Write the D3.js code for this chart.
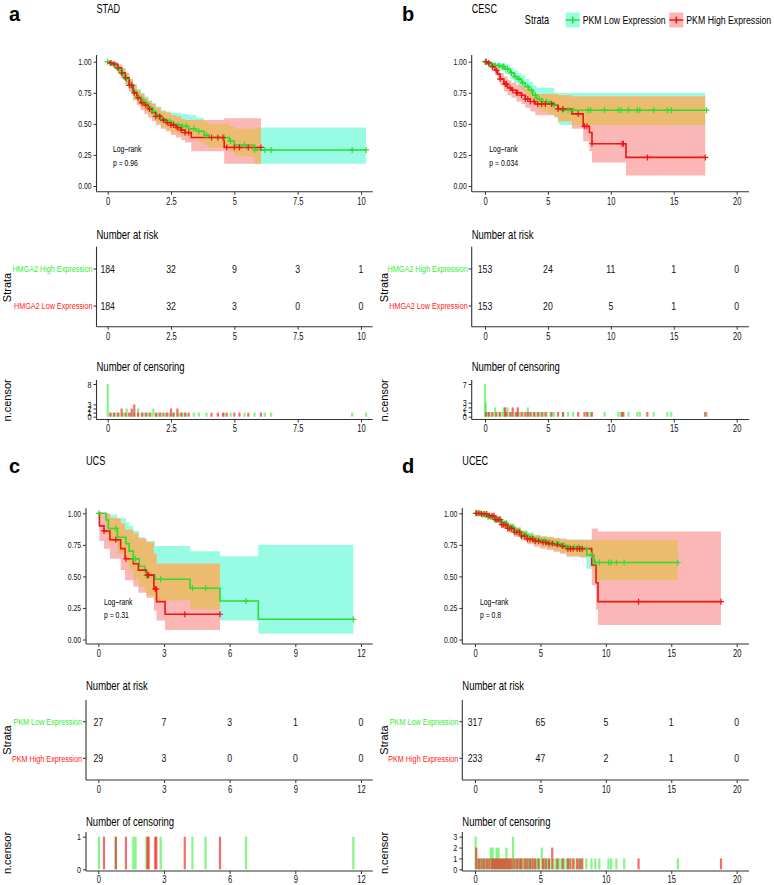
<!DOCTYPE html>
<html>
<head>
<meta charset="utf-8">
<script src="https://cdn.jsdelivr.net/npm/d3@7"></script>
<style>
  body { margin: 0; background: #fff; }
  text { font-family: 'Liberation Sans', Arial, sans-serif; }
</style>
</head>
<body>
<div id="chart"></div>
<script>
// ---------- data ----------
// curves: [time, survival, lower, upper]; censor lists: [time, count]

// a: STAD
const stadBreaks = [0, 2.5, 5, 7.5, 10];
const stadStrata = ["HMGA2 High Expression", "HMGA2 Low Expression"];
const stadRiskGreen = [184, 32, 9, 3, 1];
const stadRiskRed = [184, 32, 3, 0, 0];
const stadEnds = [10.2, 6.05];
const stadGreen = [
  [0,1,1,1],[0.1,0.99,0.97,1],[0.25,0.97,0.94,0.99],[0.4,0.94,0.9,0.97],[0.55,0.9,0.86,0.94],
  [0.7,0.86,0.81,0.9],[0.85,0.81,0.76,0.86],[1,0.76,0.7,0.82],[1.15,0.72,0.66,0.78],[1.3,0.69,0.63,0.75],
  [1.45,0.66,0.6,0.72],[1.6,0.63,0.57,0.69],[1.75,0.6,0.54,0.67],[1.9,0.57,0.51,0.64],[2.1,0.54,0.47,0.61],
  [2.3,0.52,0.45,0.6],[2.5,0.5,0.43,0.59],[2.7,0.49,0.42,0.59],[2.9,0.48,0.4,0.58],[3.2,0.46,0.38,0.57],
  [3.5,0.44,0.36,0.55],[3.8,0.41,0.33,0.52],[4,0.39,0.31,0.5],[4.8,0.36,0.27,0.48],[5,0.33,0.24,0.46],
  [5.8,0.29,0.18,0.47]
];
const stadRed = [
  [0,1,1,1],[0.1,0.99,0.98,1],[0.25,0.98,0.95,1],[0.4,0.95,0.92,0.98],[0.55,0.91,0.87,0.95],
  [0.7,0.87,0.82,0.91],[0.85,0.81,0.76,0.86],[1,0.75,0.69,0.81],[1.15,0.71,0.65,0.77],[1.3,0.67,0.61,0.74],
  [1.45,0.65,0.58,0.71],[1.6,0.62,0.55,0.68],[1.75,0.59,0.52,0.66],[1.9,0.56,0.49,0.63],[2.1,0.53,0.46,0.6],
  [2.3,0.51,0.44,0.59],[2.5,0.49,0.41,0.57],[2.7,0.47,0.39,0.56],[2.9,0.45,0.37,0.54],[3.05,0.43,0.35,0.53],
  [3.3,0.39,0.28,0.53],[4.6,0.31,0.18,0.545]
];
const stadGreenCens = [
  [0,8],[0.15,1],[0.3,1],[0.45,1],[0.6,1],[0.75,2],[0.9,1],[1.05,1],[1.2,2],[1.4,1],[1.55,1],[1.7,1],
  [1.8,2],[1.95,1],[2.1,1],[2.3,1],[2.45,1],[2.6,1],[2.8,1],[2.95,1],[3.1,1],[3.4,1],[3.6,1],[3.9,1],
  [4.6,1],[4.85,1],[5.4,1],[5.8,1],[6.2,1],[6.45,1],[9.65,1],[10.2,1]
];
const stadRedCens = [
  [0.1,1],[0.25,1],[0.4,1],[0.55,2],[0.7,1],[0.85,1],[0.95,2],[1.05,3],[1.2,1],[1.35,1],[1.5,1],
  [1.65,1],[1.9,1],[2.05,1],[2.2,1],[2.35,1],[2.5,2],[2.6,1],[2.75,2],[2.9,1],[3.05,1],[3.2,1],
  [4.1,1],[4.35,1],[4.55,1],[4.7,1],[5.0,1],[5.2,1],[5.55,1],[6.05,1]
];

// b: CESC
const cescBreaks = [0, 5, 10, 15, 20];
const cescStrata = ["HMGA2 High Expression", "HMGA2 Low Expression"];
const cescRiskGreen = [153, 24, 11, 1, 0];
const cescRiskRed = [153, 20, 5, 1, 0];
const cescEnds = [17.5, 17.5];
const cescGreen = [
  [0,1,1,1],[0.3,0.98,0.96,1],[0.8,0.97,0.94,0.99],[1.2,0.96,0.93,0.99],[1.6,0.94,0.9,0.98],
  [2,0.91,0.86,0.95],[2.3,0.88,0.83,0.93],[2.6,0.86,0.8,0.91],[2.9,0.83,0.77,0.89],[3.2,0.8,0.73,0.86],
  [3.5,0.77,0.7,0.84],[3.8,0.73,0.66,0.81],[4.1,0.7,0.62,0.79],[4.5,0.68,0.6,0.79],[5,0.67,0.58,0.79],
  [5.5,0.65,0.55,0.75],[5.8,0.62,0.5,0.75],[6,0.61,0.49,0.75]
];
const cescRed = [
  [0,1,1,1],[0.2,0.99,0.97,1],[0.5,0.96,0.93,0.99],[0.8,0.93,0.89,0.97],[1,0.9,0.85,0.94],
  [1.2,0.86,0.81,0.91],[1.5,0.82,0.76,0.88],[1.8,0.79,0.73,0.85],[2.1,0.77,0.71,0.83],[2.5,0.75,0.68,0.81],
  [2.9,0.73,0.66,0.8],[3.2,0.7,0.63,0.78],[3.6,0.68,0.6,0.76],[4,0.66,0.57,0.74],[5.5,0.65,0.56,0.74],
  [5.8,0.62,0.52,0.73],[6.9,0.58,0.46,0.72],[7.8,0.48,0.36,0.72],[8.3,0.43,0.28,0.72],[8.5,0.34,0.19,0.72],
  [11.2,0.23,0.085,0.72]
];
const cescGreenCens = [
  [0,7],[0.05,3],[0.3,1],[0.5,1],[0.8,2],[1.1,1],[1.4,1],[1.5,2],[1.8,2],[2.1,1],[2.4,1],[2.7,1],
  [3.0,1],[3.4,2],[3.7,1],[4.0,1],[4.3,1],[4.6,1],[4.9,1],[5.2,1],[5.5,1],[6.2,1],[6.6,1],[7.0,1],
  [8.2,1],[8.4,1],[9.5,1],[10.6,1],[10.8,1],[11.4,1],[12.1,1],[12.3,1],[13.4,1],[14.5,1],[14.8,1],[17.6,1]
];
const cescRedCens = [
  [0.1,1],[0.3,1],[0.6,1],[0.9,1],[1.2,1],[1.6,2],[1.7,1],[2.0,1],[2.2,2],[2.5,1],[2.6,2],[2.9,1],
  [3.2,1],[3.4,1],[3.6,1],[3.9,1],[4.2,1],[4.5,1],[4.8,1],[5.3,1],[5.8,1],[6.2,1],[7.4,1],[7.9,1],
  [8.1,1],[8.5,1],[10.9,1],[11.0,1],[12.9,1],[17.5,1]
];

// c: UCS
const ucsBreaks = [0, 3, 6, 9, 12];
const ucsStrata = ["PKM Low Expression", "PKM High Expression"];
const ucsRiskGreen = [27, 7, 3, 1, 0];
const ucsRiskRed = [29, 3, 0, 0, 0];
const ucsEnds = [11.65, 5.56];
const ucsGreen = [
  [0,1,1,1],[0.35,0.947,0.85,1],[0.46,0.88,0.77,0.99],[0.87,0.81,0.68,0.96],[1.26,0.76,0.61,0.93],
  [1.41,0.7,0.55,0.9],[1.6,0.64,0.48,0.86],[1.87,0.58,0.42,0.81],[2.13,0.54,0.38,0.79],[2.2,0.51,0.35,0.78],
  [2.59,0.477,0.31,0.74],[4.19,0.406,0.24,0.7],[5.56,0.305,0.15,0.66],[7.31,0.16,0.045,0.75]
];
const ucsRed = [
  [0,1,1,1],[0.05,0.9,0.78,1],[0.26,0.86,0.72,1],[0.53,0.79,0.64,0.96],[1.02,0.72,0.55,0.92],
  [1.22,0.64,0.47,0.87],[1.6,0.6,0.42,0.84],[1.83,0.55,0.37,0.8],[2.2,0.51,0.33,0.77],[2.54,0.4,0.23,0.68],
  [2.66,0.3,0.15,0.6],[3.05,0.2,0.075,0.6]
];
const ucsGreenCens = [
  [0.03,1],[0.8,1],[1.6,1],[1.7,1],[2.2,1],[2.85,1],[4.3,1],[4.9,1],[6.75,1],[11.65,1]
];
const ucsRedCens = [
  [0.26,1],[0.8,1],[1.26,1],[2.25,1],[2.3,1],[2.6,1],[2.65,1],[3.95,1],[5.56,1]
];

// d: UCEC
const ucecBreaks = [0, 5, 10, 15, 20];
const ucecStrata = ["PKM Low Expression", "PKM High Expression"];
const ucecRiskGreen = [317, 65, 5, 1, 0];
const ucecRiskRed = [233, 47, 2, 1, 0];
const ucecEnds = [15.5, 18.8];
const ucecGreen = [
  [0,1,1,1],[0.5,0.99,0.98,1],[1,0.97,0.955,0.985],[1.5,0.95,0.93,0.97],[2,0.92,0.895,0.945],
  [2.5,0.89,0.86,0.92],[3,0.86,0.83,0.89],[3.5,0.83,0.795,0.865],[4,0.81,0.77,0.85],[4.5,0.79,0.75,0.83],
  [5,0.78,0.735,0.82],[5.5,0.77,0.72,0.815],[6,0.76,0.705,0.8],[6.5,0.745,0.69,0.79],[7,0.73,0.665,0.79],
  [8,0.72,0.645,0.79],[8.54,0.67,0.56,0.79],[9.1,0.61,0.47,0.79]
];
const ucecRed = [
  [0,1,1,1],[0.5,0.995,0.985,1],[1,0.98,0.965,0.995],[1.5,0.95,0.93,0.97],[2,0.91,0.885,0.935],
  [2.5,0.88,0.85,0.91],[3,0.85,0.815,0.885],[3.5,0.82,0.785,0.86],[4,0.795,0.755,0.835],[4.5,0.78,0.735,0.825],
  [5,0.77,0.72,0.815],[5.5,0.76,0.71,0.81],[6,0.75,0.695,0.805],[6.5,0.74,0.68,0.8],[7,0.72,0.655,0.79],
  [8.92,0.59,0.43,0.88],[9.25,0.45,0.235,0.88],[9.4,0.3,0.115,0.855]
];
const ucecGreenCens = [
  [0.05,3],[0.2,1],[0.4,1],[0.6,1],[0.8,1],[1.0,1],[1.2,2],[1.35,2],[1.5,1],[1.65,2],[1.8,2],[1.95,1],
  [2.1,1],[2.25,1],[2.4,2],[2.55,1],[2.7,1],[2.9,3],[3.1,1],[3.3,1],[3.5,1],[3.7,1],[3.9,1],[4.1,1],
  [4.3,1],[4.5,1],[4.7,1],[4.9,1],[5.1,2],[5.3,1],[5.5,1],[5.7,1],[6.0,1],[6.2,1],[6.4,1],[6.6,1],
  [6.8,1],[7.0,1],[7.2,1],[7.6,1],[7.9,1],[8.1,1],[8.5,1],[8.9,1],[9.2,1],[9.5,1],[10.2,1],[10.4,1],
  [10.8,1],[11.4,1],[15.5,1]
];
const ucecRedCens = [
  [0.1,2],[0.3,1],[0.5,1],[0.7,1],[0.9,1],[1.1,1],[1.3,1],[1.45,1],[1.6,1],[1.75,1],[1.9,1],[2.05,1],
  [2.2,1],[2.35,1],[2.5,1],[2.65,1],[2.8,1],[3.0,1],[3.2,1],[3.4,1],[3.55,1],[3.8,1],[4.0,1],[4.2,1],
  [4.4,1],[4.6,1],[4.85,1],[5.2,1],[5.4,1],[5.65,1],[5.9,2],[6.3,1],[6.7,1],[7.1,1],[7.3,1],[7.5,1],
  [7.8,1],[8.0,1],[8.2,1],[12.5,1],[18.8,1]
];

const legendLabels = ["PKM Low Expression", "PKM High Expression"];

// ---------- colours ----------
const greenLine = "#2fdc2f", redLine = "#ee1515";
const greenText = "#33ee33", redText = "#ff2222";
const cyanFill = "#98fbe4", pinkFill = "#fbb6b6", tanFill = "#ebbc70";

// ---------- layout ----------
const W = 774, H = 885;
const NARROW = 0.76; // horizontal squeeze: the original uses a narrow face
const svg = d3.select("#chart").append("svg").attr("width", W).attr("height", H);

const topRow = { letterY: 21, titleY: 13, yt: 61.7, yb: 186, axT: 55, axB: 191.7, logY: 152,
  tabTitleY: 239, tabTop: 246.7, tabBot: 326.7, rowY: [269, 306],
  censTitleY: 371, cy0: 416.7, cy1: 384, censAxT: 380, censAxB: 419.5 };
const botRow = { letterY: 473, titleY: 465, yt: 513.3, yb: 639.5, axT: 508, axB: 644, logY: 604.5,
  tabTitleY: 690, tabTop: 700, tabBot: 780, rowY: [721.7, 758.3],
  censTitleY: 826, cy0: 869.3, cy1: 836.7, censAxT: 832, censAxB: 871 };

const panels = [
  Object.assign({ letter: "a", name: "STAD", p: "p = 0.96", letterX: 9, stratX: 11,
    x0: 107.7, x1: 361, axL: 96.5, axR: 372.7, logX: 113,
    breaks: stadBreaks, strata: stadStrata, risk: [stadRiskGreen, stadRiskRed], ends: stadEnds,
    curves: [stadGreen, stadRed], cens: [stadGreenCens, stadRedCens] }, topRow),
  Object.assign({ letter: "b", name: "CESC", p: "p = 0.034", letterX: 402, stratX: 388,
    x0: 485, x1: 736.7, axL: 471.7, axR: 749, logX: 489.3,
    breaks: cescBreaks, strata: cescStrata, risk: [cescRiskGreen, cescRiskRed], ends: cescEnds,
    curves: [cescGreen, cescRed], cens: [cescGreenCens, cescRedCens] }, topRow),
  Object.assign({ letter: "c", name: "UCS", p: "p = 0.31", letterX: 9, stratX: 11,
    x0: 98.3, x1: 361, axL: 86, axR: 372.7, logX: 104,
    breaks: ucsBreaks, strata: ucsStrata, risk: [ucsRiskGreen, ucsRiskRed], ends: ucsEnds,
    curves: [ucsGreen, ucsRed], cens: [ucsGreenCens, ucsRedCens] }, botRow),
  Object.assign({ letter: "d", name: "UCEC", p: "p = 0.8", letterX: 402, stratX: 388,
    x0: 475, x1: 736.7, axL: 462.3, axR: 749, logX: 480,
    breaks: ucecBreaks, strata: ucecStrata, risk: [ucecRiskGreen, ucecRiskRed], ends: ucecEnds,
    curves: [ucecGreen, ucecRed], cens: [ucecGreenCens, ucecRedCens] }, botRow)
];

// survival value of a step curve at time t
function survAt(curve, t) {
  let v = curve[0][1];
  curve.forEach(d => { if (d[0] <= t) v = d[1]; });
  return v;
}

function styleAxis(g, size) {
  g.select(".domain").remove();
  g.selectAll(".tick line").attr("stroke", "#333");
  g.selectAll(".tick text").attr("fill", "#111").attr("font-size", size).classed("nw", true);
}

function axisLines(g, left, right, top, bottom) {
  g.append("line").attr("x1", left).attr("x2", left).attr("y1", top).attr("y2", bottom)
    .attr("stroke", "#333").attr("stroke-width", 1.1);
  g.append("line").attr("x1", left).attr("x2", right).attr("y1", bottom).attr("y2", bottom)
    .attr("stroke", "#333").attr("stroke-width", 1.1);
}

function drawPanel(p, idx) {
  const g = svg.append("g");
  const last = p.breaks[p.breaks.length - 1];
  const x = d3.scaleLinear().domain([0, last]).range([p.x0, p.x1]);
  const y = d3.scaleLinear().domain([0, 1]).range([p.yb, p.yt]);

  // letter + title
  g.append("text").attr("x", p.letterX).attr("y", p.letterY).text(p.letter)
    .attr("font-size", 20).attr("font-weight", "bold");
  g.append("text").attr("class", "nw").attr("x", p.axL).attr("y", p.titleY).text(p.name).attr("font-size", 12);

  // step series with end point added
  const series = p.curves.map((c, i) => {
    const l = c[c.length - 1];
    return c.concat([[p.ends[i], l[1], l[2], l[3]]]);
  });
  const area = d3.area().curve(d3.curveStepAfter)
    .x(d => x(d[0])).y0(d => y(d[2])).y1(d => y(d[3]));
  const line = d3.line().curve(d3.curveStepAfter)
    .x(d => x(d[0])).y(d => y(d[1]));

  // confidence bands: green (cyan), red (pink), overlap (tan)
  const clipId = "clip" + idx;
  g.append("clipPath").attr("id", clipId).append("path").attr("d", area(series[0]));
  g.append("path").attr("d", area(series[0])).attr("fill", cyanFill);
  g.append("path").attr("d", area(series[1])).attr("fill", pinkFill);
  g.append("path").attr("d", area(series[1])).attr("fill", tanFill)
    .attr("clip-path", `url(#${clipId})`);

  const colors = [greenLine, redLine];
  series.forEach((s, i) => {
    g.append("path").attr("d", line(s)).attr("fill", "none")
      .attr("stroke", colors[i]).attr("stroke-width", 1.6);
  });
  // censor marks
  p.cens.forEach((cl, i) => {
    g.append("g").selectAll("path").data(cl).join("path")
      .attr("d", d => {
        const cx = x(d[0]), cy = y(survAt(p.curves[i], d[0]));
        return `M${cx - 3},${cy}h6M${cx},${cy - 3}v6`;
      })
      .attr("stroke", colors[i]).attr("stroke-width", 1.2).attr("fill", "none");
  });

  // axes
  axisLines(g, p.axL, p.axR, p.axT, p.axB);
  g.append("g").attr("transform", `translate(0,${p.axB})`)
    .call(d3.axisBottom(x).tickValues(p.breaks).tickSize(3).tickPadding(3).tickFormat(d3.format("")))
    .call(a => styleAxis(a, 10));
  g.append("g").attr("transform", `translate(${p.axL},0)`)
    .call(d3.axisLeft(y).tickValues([0, 0.25, 0.5, 0.75, 1]).tickSize(3).tickPadding(2)
      .tickFormat(d3.format(".2f")))
    .call(a => styleAxis(a, 9));

  // log-rank annotation
  g.append("text").attr("class", "nw").attr("x", p.logX).attr("y", p.logY).text("Log\u2013rank").attr("font-size", 9);
  g.append("text").attr("class", "nw").attr("x", p.logX).attr("y", p.logY + 13.5).text(p.p).attr("font-size", 9);

  // ---- risk table ----
  g.append("text").attr("class", "nw").attr("x", p.axL).attr("y", p.tabTitleY).text("Number at risk").attr("font-size", 12.5);
  axisLines(g, p.axL, p.axR, p.tabTop, p.tabBot);
  g.append("g").attr("transform", `translate(0,${p.tabBot})`)
    .call(d3.axisBottom(x).tickValues(p.breaks).tickSize(3).tickPadding(3).tickFormat(d3.format("")))
    .call(a => styleAxis(a, 10));
  const txtColors = [greenText, redText];
  p.risk.forEach((row, i) => {
    const ry = p.rowY[i];
    g.append("line").attr("x1", p.axL - 3).attr("x2", p.axL).attr("y1", ry).attr("y2", ry).attr("stroke", "#333");
    g.append("text").attr("class", "nw").attr("x", p.axL - 4).attr("y", ry).attr("dy", "0.35em")
      .attr("text-anchor", "end").attr("font-size", 9.5).attr("fill", txtColors[i]).text(p.strata[i]);
    g.append("g").selectAll("text").data(row).join("text").attr("class", "nw")
      .attr("x", (d, j) => x(p.breaks[j])).attr("y", ry).attr("dy", "0.35em")
      .attr("text-anchor", "middle").attr("font-size", 11.5).attr("fill", "#111").text(d => d);
  });
  const midY = (p.rowY[0] + p.rowY[1]) / 2;
  g.append("text").attr("transform", `translate(${p.stratX},${midY}) rotate(-90)`)
    .attr("text-anchor", "middle").attr("font-size", 11).text("Strata");

  // ---- number of censoring ----
  g.append("text").attr("class", "nw").attr("x", p.axL).attr("y", p.censTitleY).text("Number of censoring").attr("font-size", 12.5);
  const maxN = d3.max(p.cens.flat(), d => d[1]);
  const yc = d3.scaleLinear().domain([0, maxN]).range([p.cy0, p.cy1]);
  const barColors = [greenText, "#ee2020"];
  p.cens.forEach((cl, i) => {
    g.append("g").selectAll("rect").data(cl).join("rect")
      .attr("x", d => x(d[0]) - 1.1).attr("width", 2.2)
      .attr("y", d => yc(d[1])).attr("height", d => yc(0) - yc(d[1]))
      .attr("fill", barColors[i]).attr("opacity", i === 0 ? 0.6 : 0.65);
  });
  axisLines(g, p.axL, p.axR, p.censAxT, p.censAxB);
  const counts = Array.from(new Set([0].concat(p.cens.flat().map(d => d[1])))).sort((a, b) => a - b);
  g.append("g").attr("transform", `translate(0,${p.censAxB})`)
    .call(d3.axisBottom(x).tickValues(p.breaks).tickSize(3).tickPadding(2).tickFormat(d3.format("")))
    .call(a => styleAxis(a, 10));
  g.append("g").attr("transform", `translate(${p.axL},0)`)
    .call(d3.axisLeft(yc).tickValues(counts).tickSize(3).tickPadding(2).tickFormat(d3.format("d")))
    .call(a => styleAxis(a, 9.5));
  g.append("text").attr("transform", `translate(${p.stratX},${(p.cy0 + p.cy1) / 2}) rotate(-90)`)
    .attr("text-anchor", "middle").attr("font-size", 11).text("n.censor");
}

panels.forEach(drawPanel);

// ---- legend (top of panel b) ----
const leg = svg.append("g").attr("transform", "translate(0,20)");
leg.append("text").attr("class", "nw").attr("x", 537).attr("y", 0).attr("dy", "0.35em").attr("text-anchor", "middle")
  .attr("font-size", 12).text("Strata");
const legItems = [
  { label: legendLabels[0], fill: cyanFill, stroke: greenLine, x: 565.7 },
  { label: legendLabels[1], fill: pinkFill, stroke: redLine, x: 669.3 }
];
legItems.forEach(it => {
  leg.append("rect").attr("x", it.x).attr("y", -7.5).attr("width", 14).attr("height", 15).attr("fill", it.fill);
  leg.append("path").attr("d", `M${it.x},0h14M${it.x + 7},-3.5v7`)
    .attr("stroke", it.stroke).attr("stroke-width", 1.6).attr("fill", "none");
  leg.append("text").attr("class", "nw").attr("x", it.x + 17).attr("y", 0).attr("dy", "0.35em")
    .attr("font-size", 11.5).text(it.label);
});

// squeeze every text marked "nw" horizontally around its anchor
svg.selectAll("text.nw").each(function () {
  const t = d3.select(this);
  const tx = +t.attr("x") || 0, ty = +t.attr("y") || 0;
  t.attr("x", null).attr("y", null)
    .attr("transform", `translate(${tx},${ty}) scale(${NARROW},1)`);
});
</script>
</body>
</html>
